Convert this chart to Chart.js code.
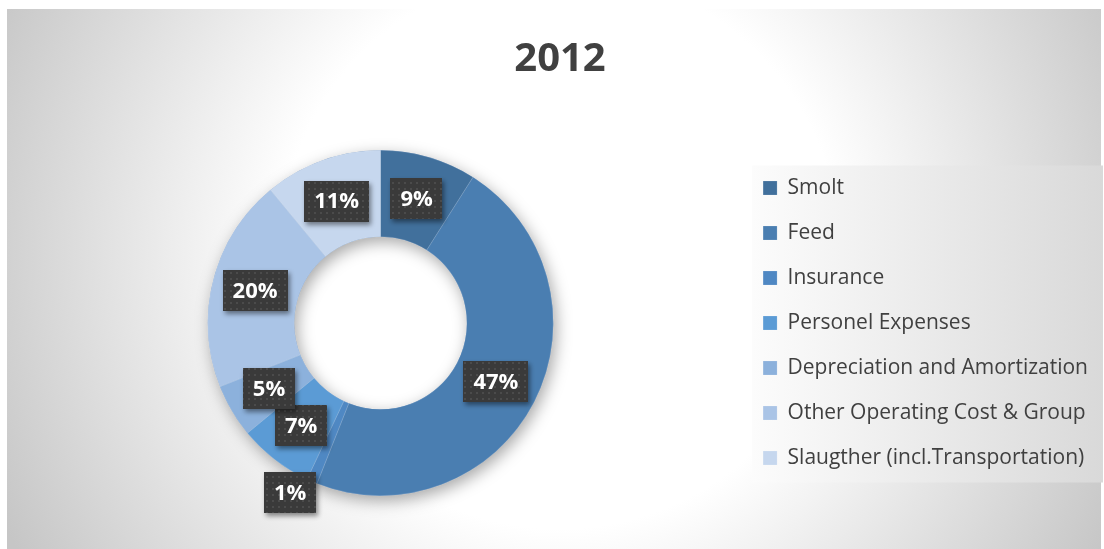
<!DOCTYPE html>
<html>
<head>
<meta charset="utf-8">
<title>2012</title>
<script src="https://cdn.jsdelivr.net/npm/chart.js@4.4.1/dist/chart.umd.min.js"></script>
<style>
  html, body { margin: 0; padding: 0; background: #ffffff; }
  #wrap { width: 1104px; height: 549px; position: relative; }
</style>
</head>
<body>
<div id="wrap"><canvas id="cost-chart" width="1104" height="549"></canvas></div>
<script>
// Cost breakdown, 2012 (share of total, %)
const chartTitle = '2012';
const categories = [
  'Smolt',
  'Feed',
  'Insurance',
  'Personel Expenses',
  'Depreciation and Amortization',
  'Other Operating Cost & Group',
  'Slaugther (incl.Transportation)'
];
const shares = [9, 47, 1, 7, 5, 20, 11];
const sliceColors = ['#41709c', '#4a7eb1', '#4f88c3', '#5b9bd5', '#8cb1dc', '#aac4e6', '#c6d7ee'];

// dotted dark fill used behind the value labels
function makeDotPattern(ctx) {
  const c = document.createElement('canvas');
  c.width = 6; c.height = 6;
  const p = c.getContext('2d');
  p.fillStyle = '#3a3a3a';
  p.fillRect(0, 0, 6, 6);
  p.fillStyle = '#4b4b4b';
  p.fillRect(2, 2, 2, 2);
  return ctx.createPattern(c, 'repeat');
}

// page background + legend panel
const backdrop = {
  id: 'backdrop',
  beforeDraw(chart) {
    const ctx = chart.ctx;
    const W = chart.width, H = chart.height;
    ctx.save();
    ctx.fillStyle = '#ffffff';
    ctx.fillRect(0, 0, W, H);

    const g = ctx.createRadialGradient(560, 250, 0, 560, 250, 620);
    g.addColorStop(0, '#ffffff');
    g.addColorStop(0.45, '#ffffff');
    g.addColorStop(1, '#c6c6c6');
    ctx.fillStyle = g;
    ctx.fillRect(7, 9, W - 10, H - 9);

    const boxes = chart.legend.legendHitBoxes;
    if (boxes && boxes.length) {
      const left = boxes[0].left - 11;
      const right = Math.max(...boxes.map(b => b.left + b.width)) + 15;
      const top = boxes[0].top - 12;
      const last = boxes[boxes.length - 1];
      const bottom = last.top + last.height + 14;
      const lg = ctx.createLinearGradient(left, 0, right, 0);
      lg.addColorStop(0, '#fcfcfc');
      lg.addColorStop(1, '#d9d9d9');
      ctx.fillStyle = lg;
      ctx.fillRect(left, top, right - left, bottom - top);
    }
    ctx.restore();
  }
};

// soft shadow under the ring
const ringShadow = {
  id: 'ringShadow',
  beforeDatasetsDraw(chart) {
    const arc = chart.getDatasetMeta(0).data[0];
    if (!arc) return;
    const { x, y, innerRadius, outerRadius } = arc.getProps(['x', 'y', 'innerRadius', 'outerRadius'], true);
    const ctx = chart.ctx;
    ctx.save();
    ctx.shadowColor = 'rgba(0,0,0,0.35)';
    ctx.shadowBlur = 16;
    ctx.shadowOffsetX = 3;
    ctx.shadowOffsetY = 5;
    ctx.fillStyle = '#6f93bf';
    ctx.beginPath();
    ctx.arc(x, y, outerRadius, 0, Math.PI * 2);
    ctx.arc(x, y, innerRadius, 0, Math.PI * 2, true);
    ctx.fill();
    ctx.restore();
  }
};

// percentage tags on the slices
const valueTags = {
  id: 'valueTags',
  afterDatasetsDraw(chart, args, opts) {
    const ctx = chart.ctx;
    const meta = chart.getDatasetMeta(0);
    const values = chart.data.datasets[0].data;
    const total = values.reduce((a, b) => a + b, 0);
    const fill = makeDotPattern(ctx);
    ctx.save();
    ctx.font = 'bold 22px "Open Sans"';
    ctx.textAlign = 'center';
    ctx.textBaseline = 'middle';
    meta.data.forEach((el, i) => {
      const pos = el.tooltipPosition(true);
      const shift = opts.nudge[i] || [0, 0];
      const cx = pos.x + shift[0];
      const cy = pos.y + shift[1];
      const text = Math.round(values[i] / total * 100) + '%';
      const w = ctx.measureText(text).width + 20;
      const h = 41;
      ctx.save();
      ctx.shadowColor = 'rgba(0,0,0,0.45)';
      ctx.shadowBlur = 5;
      ctx.shadowOffsetX = 2;
      ctx.shadowOffsetY = 3;
      ctx.fillStyle = fill;
      ctx.fillRect(Math.round(cx - w / 2), Math.round(cy - h / 2), Math.round(w), h);
      ctx.restore();
      ctx.fillStyle = '#ffffff';
      ctx.fillText(text, cx, cy + 1);
    });
    ctx.restore();
  }
};

const ctx = document.getElementById('cost-chart').getContext('2d');
new Chart(ctx, {
  type: 'doughnut',
  data: {
    labels: categories,
    datasets: [{
      data: shares,
      backgroundColor: sliceColors,
      borderColor: 'rgba(255,255,255,0.25)',
      borderWidth: 0.6
    }]
  },
  options: {
    responsive: false,
    animation: false,
    cutout: '50%',
    layout: { padding: { left: 22, right: 6, top: 0, bottom: 53 } },
    plugins: {
      title: {
        display: true,
        text: chartTitle,
        color: '#404040',
        font: { family: 'Open Sans', size: 40, weight: 'bold' },
        padding: { top: 36, bottom: 66 }
      },
      legend: {
        position: 'right',
        fullSize: false,
        labels: {
          color: '#404040',
          font: { family: 'Open Sans', size: 21 },
          boxWidth: 14,
          boxHeight: 14,
          padding: 24
        }
      },
      tooltip: { enabled: false },
      valueTags: { nudge: { 2: [-39, 51] } }
    }
  },
  plugins: [backdrop, ringShadow, valueTags]
});
</script>
</body>
</html>
